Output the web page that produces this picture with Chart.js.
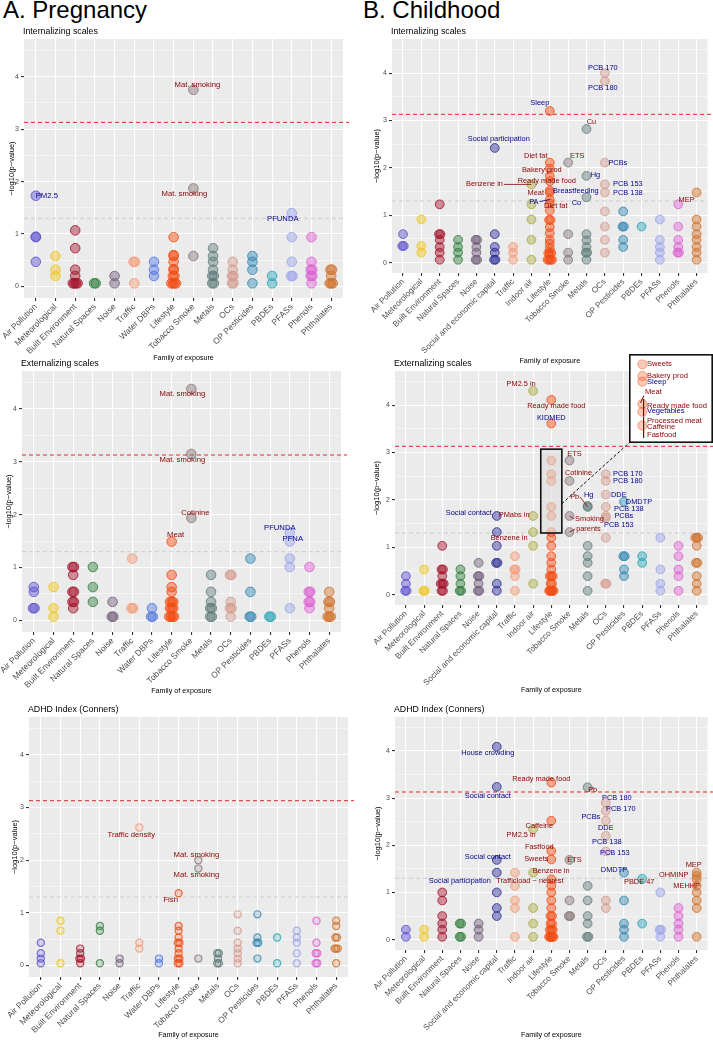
<!DOCTYPE html>
<html>
<head>
<meta charset="utf-8">
<script src="https://cdn.jsdelivr.net/npm/chart.js@4.4.1/dist/chart.umd.min.js"></script>
<style>
  body { margin: 0; background: #fff; }
  #page { position: relative; width: 713px; height: 1040px; overflow: hidden; font-family: "Liberation Sans", Arial, sans-serif; }
  .big { position: absolute; top: -2px; font-size: 24px; line-height: 24px; color: #000; white-space: nowrap; }
  canvas { position: absolute; }
</style>
</head>
<body>
<div id="page">
  <div class="big" style="left:3px">A. Pregnancy</div>
  <div class="big" style="left:363px">B. Childhood</div>
</div>
<script>
// exposure families
const familiesA = ['Air Pollution', 'Meteorological', 'Built Environment', 'Natural Spaces', 'Noise', 'Traffic',
  'Water DBPs', 'Lifestyle', 'Tobacco Smoke', 'Metals', 'OCs', 'OP Pesticides', 'PBDEs', 'PFASs', 'Phenols', 'Phthalates'];
const familiesB = ['Air Pollution', 'Meteorological', 'Built Environment', 'Natural Spaces', 'Noise',
  'Social and economic capital', 'Traffic', 'Indoor air', 'Lifestyle', 'Tobacco Smoke', 'Metals', 'OCs',
  'OP Pesticides', 'PBDEs', 'PFASs', 'Phenols', 'Phthalates'];

const yTickValues = [0, 0.5, 1, 1.5, 2, 2.5, 3, 3.5, 4, 4.5];
const bonferroniLine = 3.13;
const nominalLine = 1.3;

// -log10(p) per family, pregnancy
const aInternalizing = [
  [1.73, 0.95, 0.94, 0.47],
  [0.58, 0.32, 0.2],
  [1.07, 0.73, 0.32, 0.2, 0.06, 0.06, 0.06, 0.06],
  [0.06, 0.06],
  [0.2, 0.06],
  [0.47, 0.47, 0.06],
  [0.47, 0.32, 0.2],
  [0.94, 0.6, 0.58, 0.47, 0.33, 0.32, 0.2, 0.2, 0.06, 0.06, 0.06, 0.06],
  [3.75, 1.87, 0.58],
  [0.73, 0.58, 0.47, 0.32, 0.2, 0.2, 0.06, 0.06],
  [0.47, 0.32, 0.2, 0.2, 0.06, 0.06],
  [0.58, 0.47, 0.32, 0.06],
  [0.2, 0.06],
  [1.4, 0.94, 0.47, 0.2, 0.2],
  [0.94, 0.47, 0.32, 0.32, 0.2, 0.2, 0.06],
  [0.32, 0.32, 0.2, 0.06, 0.06, 0.06]
];
const aExternalizing = [
  [0.63, 0.54, 0.23, 0.23],
  [0.63, 0.23, 0.07],
  [1.01, 1.01, 0.86, 0.54, 0.54, 0.35, 0.35, 0.23],
  [1.01, 0.63, 0.35],
  [0.35, 0.07, 0.07],
  [1.17, 0.23, 0.23],
  [0.23, 0.07, 0.07],
  [1.49, 0.86, 0.63, 0.54, 0.35, 0.35, 0.35, 0.23, 0.23, 0.23, 0.07, 0.07, 0.07, 0.07],
  [4.38, 3.15, 1.94],
  [0.86, 0.54, 0.35, 0.23, 0.23, 0.07, 0.07],
  [0.86, 0.86, 0.35, 0.23, 0.23, 0.07],
  [1.17, 0.54, 0.07, 0.07],
  [0.07, 0.07],
  [1.66, 1.49, 1.17, 1.01, 0.23],
  [1.01, 0.54, 0.54, 0.35, 0.35, 0.23],
  [0.54, 0.35, 0.35, 0.23, 0.07, 0.07, 0.07]
];
const aAdhd = [
  [0.43, 0.23, 0.13, 0.04],
  [0.85, 0.66, 0.04],
  [0.32, 0.23, 0.13, 0.13, 0.04],
  [0.75, 0.66, 0.04],
  [0.13, 0.04],
  [2.62, 0.43, 0.32],
  [0.13, 0.04],
  [1.37, 0.75, 0.66, 0.53, 0.43, 0.43, 0.32, 0.23, 0.13, 0.13, 0.04, 0.04],
  [2.0, 1.84, 0.13],
  [0.23, 0.23, 0.13, 0.04, 0.04],
  [0.97, 0.66, 0.43, 0.32, 0.23, 0.13, 0.04],
  [0.97, 0.53, 0.43, 0.43, 0.13],
  [0.53, 0.04],
  [0.66, 0.53, 0.43, 0.23, 0.04],
  [0.85, 0.43, 0.23, 0.23, 0.04, 0.04],
  [0.85, 0.75, 0.53, 0.53, 0.32, 0.32, 0.32, 0.04]
];

// childhood
const bInternalizing = [
  [0.6, 0.35, 0.35],
  [0.91, 0.35, 0.21],
  [1.23, 0.6, 0.6, 0.48, 0.33, 0.21, 0.06],
  [0.48, 0.33, 0.21, 0.06],
  [0.48, 0.48, 0.33, 0.21, 0.06, 0.06],
  [2.42, 0.6, 0.33, 0.21, 0.06, 0.06],
  [0.33, 0.21, 0.06],
  [1.65, 1.23, 0.91, 0.48, 0.06],
  [3.2, 2.11, 1.98, 1.83, 1.72, 1.52, 1.48, 1.33, 1.25, 1.1, 0.9, 0.9, 0.75, 0.62, 0.48, 0.4, 0.3, 0.2, 0.2, 0.2, 0.06, 0.06, 0.06, 0.06],
  [2.11, 0.6, 0.21, 0.06],
  [2.82, 1.83, 1.38, 0.6, 0.47, 0.33, 0.21, 0.21, 0.06],
  [4.0, 3.83, 2.11, 1.65, 1.48, 1.08, 0.76, 0.48, 0.21],
  [1.08, 0.76, 0.76, 0.48, 0.33],
  [0.76],
  [0.91, 0.48, 0.33, 0.21, 0.06],
  [1.23, 0.76, 0.48, 0.33, 0.21, 0.21],
  [1.48, 0.91, 0.76, 0.6, 0.48, 0.33, 0.21, 0.06]
];
const bExternalizing = [
  [0.39, 0.23, 0.08, 0.08],
  [0.53, 0.08, 0.08],
  [1.03, 0.53, 0.53, 0.39, 0.23, 0.23, 0.23, 0.08, 0.08],
  [0.53, 0.39, 0.23, 0.08, 0.08],
  [0.67, 0.39, 0.39, 0.23, 0.08, 0.08],
  [1.66, 1.32, 1.03, 0.67, 0.67, 0.23, 0.08],
  [0.81, 0.53, 0.53, 0.39, 0.08],
  [4.3, 1.66, 1.32, 1.03, 0.23],
  [4.11, 3.61, 2.83, 2.54, 2.4, 1.85, 1.66, 1.32, 1.2, 1.03, 0.81, 0.67, 0.53, 0.39, 0.39, 0.39, 0.23, 0.23, 0.08, 0.08, 0.08, 0.08, 0.08],
  [2.83, 2.4, 1.66, 1.32],
  [1.87, 1.85, 1.03, 0.81, 0.67, 0.39, 0.08],
  [2.54, 2.4, 2.11, 1.85, 1.66, 1.62, 1.2, 0.23, 0.23],
  [1.96, 0.81, 0.81, 0.53, 0.39],
  [0.81, 0.67],
  [1.2, 0.53, 0.23, 0.08],
  [1.03, 0.81, 0.53, 0.39, 0.08],
  [1.2, 1.2, 1.2, 1.03, 0.67, 0.67, 0.39, 0.23, 0.08]
];
const bAdhd = [
  [0.21, 0.06],
  [0.21, 0.06],
  [1.0, 0.83, 0.5, 0.34, 0.21, 0.06],
  [0.34, 0.34, 0.06, 0.06],
  [0.34, 0.21, 0.06],
  [4.09, 3.24, 1.69, 1.42, 1.0, 0.67, 0.5],
  [1.42, 1.14, 0.83, 0.67, 0.06],
  [2.34, 1.42, 0.67, 0.34, 0.06],
  [3.33, 2.52, 1.88, 1.7, 1.28, 1.14, 1.0, 0.83, 0.67, 0.5, 0.5, 0.34, 0.34, 0.21, 0.21, 0.21, 0.06, 0.06, 0.06, 0.06, 0.06],
  [1.69, 0.83, 0.5, 0.5],
  [3.23, 1.14, 0.83, 0.5, 0.34, 0.06, 0.06],
  [2.9, 2.73, 2.52, 2.2, 1.87, 0.83, 0.67],
  [1.42, 0.83, 0.34, 0.21, 0.06],
  [1.29, 0.34],
  [1.0, 0.21, 0.21, 0.06],
  [0.67, 0.5, 0.34, 0.21, 0.06],
  [1.42, 1.35, 1.28, 1.14, 1.0, 0.83, 0.67, 0.06]
];

// zoomed part of the childhood externalizing lifestyle column
const zoomRange = [1.3, 3.07];

// labelled exposures: family, value, text, label offset x/y (px), colour, leader line
const aIntNotes = [
  ['Tobacco Smoke', 3.75, 'Mat. smoking', 4, -5, 'r'],
  ['Air Pollution', 1.73, 'PM2.5', 11, 0, 'b'],
  ['Tobacco Smoke', 1.87, 'Mat. smoking', -9, 5, 'r'],
  ['PFASs', 1.4, 'PFUNDA', -9, 6, 'b']
];
const aExtNotes = [
  ['Tobacco Smoke', 4.38, 'Mat. smoking', -9, 5, 'r'],
  ['Tobacco Smoke', 3.15, 'Mat. smoking', -9, 6, 'r'],
  ['Tobacco Smoke', 1.94, 'Cotinine', 4, -5, 'r'],
  ['Lifestyle', 1.49, 'Meat', 4, -7, 'r'],
  ['PFASs', 1.66, 'PFUNDA', -10, -5, 'b'],
  ['PFASs', 1.49, 'PFNA', 3, -3, 'b']
];
const aAdhdNotes = [
  ['Traffic', 2.62, 'Traffic density', -8, 7, 'r'],
  ['Tobacco Smoke', 2.0, 'Mat. smoking', -2, -5, 'r'],
  ['Tobacco Smoke', 1.84, 'Mat. smoking', -2, 6, 'r'],
  ['Lifestyle', 1.37, 'Fish', -8, 7, 'r']
];
const bIntNotes = [
  ['OCs', 4.0, 'PCB 170', -2, -5, 'b'],
  ['OCs', 3.83, 'PCB 180', -2, 7, 'b'],
  ['Lifestyle', 3.2, 'Sleep', -10, -8, 'b'],
  ['Metals', 2.82, 'Cu', 5, -7, 'r'],
  ['Social and economic capital', 2.42, 'Social participation', 4, -9, 'b'],
  ['Lifestyle', 2.11, 'Diet fat', -14, -7, 'r'],
  ['Tobacco Smoke', 2.11, 'ETS', 9, -7, 'r'],
  ['OCs', 2.11, 'PCBs', 13, 0, 'b'],
  ['Lifestyle', 1.98, 'Bakery prod', -8, 1, 'r'],
  ['Lifestyle', 1.72, 'Ready made food', -3, 0, 'r'],
  ['Indoor air', 1.65, 'Benzene in', -47, 0, 'r', true],
  ['Lifestyle', 1.48, 'Meat', -14, 0, 'r'],
  ['Lifestyle', 1.52, 'Breastfeeding', 26, 0, 'b'],
  ['Lifestyle', 1.33, 'PA', -16, 2, 'b', true],
  ['Lifestyle', 1.25, 'Diet fat', 6, 3, 'r'],
  ['Metals', 1.38, 'Co', -10, 6, 'b'],
  ['Metals', 1.83, 'Hg', 9, -1, 'b'],
  ['OCs', 1.65, 'PCB 153', 23, 0, 'b'],
  ['OCs', 1.48, 'PCB 138', 23, 0, 'b'],
  ['Phthalates', 1.48, 'MEP', -10, 7, 'r']
];
const bExtNotes = [
  ['Indoor air', 4.3, 'PM2.5 in', -12, -7, 'r'],
  ['Lifestyle', 4.11, 'Ready made food', 5, 6, 'r'],
  ['Lifestyle', 3.61, 'KIDMED', 0, -6, 'b'],
  ['Tobacco Smoke', 2.83, 'ETS', 5, -7, 'r'],
  ['Tobacco Smoke', 2.4, 'Cotinine', 9, -8, 'r'],
  ['OCs', 2.54, 'PCB 170', 22, 0, 'b'],
  ['OCs', 2.4, 'PCB 180', 22, 0, 'b'],
  ['OCs', 2.11, 'DDE', 13, 0, 'b'],
  ['OP Pesticides', 1.96, 'DMDTP', 15, 0, 'b'],
  ['OCs', 1.85, 'PCB 138', 23, 2, 'b'],
  ['OCs', 1.66, 'PCBs', 18, 0, 'b'],
  ['OCs', 1.62, 'PCB 153', 13, 7, 'b'],
  ['Metals', 1.85, 'Pb', -13, -10, 'r', true],
  ['Metals', 1.87, 'Hg', 1, -11, 'b'],
  ['Social and economic capital', 1.66, 'Social contact', -28, -3, 'b'],
  ['Indoor air', 1.66, 'PMabs in', -19, -1, 'r'],
  ['Indoor air', 1.32, 'Benzene in', -24, 6, 'r'],
  ['Tobacco Smoke', 1.66, 'Smoking', 20, 3, 'r', true],
  ['Tobacco Smoke', 1.32, 'parents', 19, -3, 'r', true]
];
const bAdhdNotes = [
  ['Social and economic capital', 4.09, 'House crowding', -9, 6, 'b'],
  ['Lifestyle', 3.33, 'Ready made food', -10, -4, 'r'],
  ['Metals', 3.23, 'Pb', 5, 3, 'r'],
  ['Social and economic capital', 3.24, 'Social contact', -9, 9, 'b'],
  ['OCs', 2.9, 'PCB 180', 11, -5, 'b'],
  ['OCs', 2.73, 'PCB 170', 15, -2, 'b'],
  ['OCs', 2.52, 'PCBs', -15, -4, 'b'],
  ['OCs', 2.2, 'DDE', 0, -8, 'b'],
  ['OCs', 2.2, 'PCB 138', 1, 6, 'b'],
  ['OCs', 1.87, 'PCB 153', 9, 2, 'b'],
  ['Lifestyle', 2.52, 'Caffeine', -12, 5, 'r'],
  ['Indoor air', 2.34, 'PM2.5 in', -12, 6, 'r'],
  ['Lifestyle', 1.88, 'Fastfood', -12, -4, 'r'],
  ['Social and economic capital', 1.69, 'Social contact', -9, -3, 'b'],
  ['Lifestyle', 1.7, 'Sweets', -15, 0, 'r'],
  ['Tobacco Smoke', 1.69, 'ETS', 5, 0, 'r'],
  ['Indoor air', 1.42, 'Benzene in', 18, -2, 'r'],
  ['Traffic', 1.42, 'Trafficload \u2212 nearest', 15, 8, 'r'],
  ['Social and economic capital', 1.42, 'Social participation', -37, 8, 'b'],
  ['OP Pesticides', 1.42, 'DMDTP', -10, -3, 'b'],
  ['PBDEs', 1.29, 'PBDE 47', -3, 3, 'r'],
  ['Phthalates', 1.42, 'MEP', -3, -8, 'r'],
  ['Phthalates', 1.35, 'OHMINP', -23, -1, 'r'],
  ['Phthalates', 1.14, 'MEHHP', -10, 0, 'r']
];
// labels inside the zoom inset: value, text, y offset, colour, leader
const insetNotes = [
  [2.83, 'Sweets', 0, 'r'],
  [2.54, 'Bakery prod', 0, 'r'],
  [2.4, 'Sleep', 0.7, 'b'],
  [1.85, 'Meat', -12.5, 'r', true],
  [1.85, 'Ready made food', 1.5, 'r'],
  [1.66, 'Vegetables', -1, 'b'],
  [1.32, 'Processed meat', -5, 'r'],
  [1.32, 'Caffeine', 1.4, 'r'],
  [1.32, 'Fastfood', 9, 'r']
];

const familyColors = {
  'Air Pollution': '#5B4FCF',
  'Meteorological': '#F0C419',
  'Built Environment': '#A3122A',
  'Natural Spaces': '#2F7D3B',
  'Noise': '#6F5A78',
  'Social and economic capital': '#2A2A96',
  'Traffic': '#F29A76',
  'Water DBPs': '#4F74E0',
  'Indoor air': '#A9A83E',
  'Lifestyle': '#F24B12',
  'Tobacco Smoke': '#857475',
  'Metals': '#5D7A78',
  'OCs': '#D39A8C',
  'OP Pesticides': '#2F86B0',
  'PBDEs': '#25A3B5',
  'PFASs': '#98A2E8',
  'Phenols': '#DC5FD0',
  'Phthalates': '#D0702A'
};
const RED = '#8B0000', BLUE = '#00008B';
const FONT = '"Liberation Sans", Arial, sans-serif';
const INSET = { left: 629, top: 354, w: 84, h: 89 };

Chart.defaults.font.family = FONT;
Chart.defaults.color = '#4D4D4D';

const page = document.getElementById('page');

function rgba(hex, a) {
  const n = parseInt(hex.slice(1), 16);
  return `rgba(${n >> 16},${(n >> 8) & 255},${n & 255},${a})`;
}

// small horizontal dodge for tied values inside a family
function buildPoints(families, values, fillAlpha) {
  const pts = [], fill = [], line = [];
  values.forEach((vals, i) => {
    const count = {}, used = {};
    vals.forEach(v => { count[v] = (count[v] || 0) + 1; });
    const c = familyColors[families[i]];
    vals.forEach(v => {
      const k = count[v], j = used[v] || 0;
      used[v] = j + 1;
      const step = k > 1 ? Math.min(0.08, 0.24 / (k - 1)) : 0;
      pts.push({ x: i + (j - (k - 1) / 2) * step, y: v });
      fill.push(rgba(c, fillAlpha));
      line.push(rgba(c, 0.8));
    });
  });
  return { pts, fill, line };
}

function drawNote(ctx, text, lx, ly, col, seg, px, py, size) {
  ctx.font = `${size}px ${FONT}`;
  ctx.textAlign = 'center';
  ctx.textBaseline = 'middle';
  ctx.fillStyle = col === 'r' ? RED : BLUE;
  ctx.fillText(text, lx, ly);
  if (seg) {
    const w = ctx.measureText(text).width;
    let ex, ey;
    if (Math.abs(lx - px) > Math.abs(ly - py)) {
      ex = lx + (px > lx ? 1 : -1) * (w / 2 + 1); ey = ly;
    } else {
      ex = lx; ey = ly + (py > ly ? 1 : -1) * 4;
    }
    ctx.strokeStyle = ctx.fillStyle;
    ctx.lineWidth = 0.8;
    ctx.beginPath(); ctx.moveTo(ex, ey); ctx.lineTo(px, py); ctx.stroke();
  }
}

function panelPlugin(p) {
  return {
    id: 'panel',
    beforeDraw(chart) {
      const { ctx, chartArea: a } = chart;
      ctx.save();
      ctx.fillStyle = '#EBEBEB';
      ctx.fillRect(a.left, a.top, a.right - a.left, a.bottom - a.top);
      ctx.fillStyle = '#000';
      ctx.font = `8.8px ${FONT}`;
      ctx.textAlign = 'left';
      ctx.textBaseline = 'alphabetic';
      ctx.fillText(p.title, a.left - 1, a.top - 5.5);
      ctx.restore();
    },
    beforeDatasetsDraw(chart) {
      const { ctx, chartArea: a, scales: { y } } = chart;
      ctx.save();
      ctx.setLineDash([4, 3]);
      ctx.lineWidth = 0.8;
      ctx.strokeStyle = '#C4C4C4';
      let py = y.getPixelForValue(nominalLine);
      ctx.beginPath(); ctx.moveTo(a.left, py); ctx.lineTo(a.right, py); ctx.stroke();
      ctx.lineWidth = 1;
      ctx.strokeStyle = '#E3262B';
      py = y.getPixelForValue(bonferroniLine);
      ctx.beginPath(); ctx.moveTo(a.left, py); ctx.lineTo(Math.min(a.right + 6, chart.width), py); ctx.stroke();
      ctx.restore();
    },
    afterDatasetsDraw(chart) {
      const { ctx, scales: { x, y } } = chart;
      ctx.save();
      if (p.zoom) {
        const xi = p.families.indexOf('Lifestyle');
        const l = x.getPixelForValue(xi - 0.58), r = x.getPixelForValue(xi + 0.58);
        const t = y.getPixelForValue(zoomRange[1]), b = y.getPixelForValue(zoomRange[0]);
        ctx.fillStyle = 'rgba(222,222,222,0.6)';
        ctx.fillRect(l, t, r - l, b - t);
        ctx.strokeStyle = '#111';
        ctx.lineWidth = 1.6;
        ctx.strokeRect(l, t, r - l, b - t);
        ctx.setLineDash([3, 2]);
        ctx.lineWidth = 1;
        ctx.beginPath();
        ctx.moveTo(r, y.getPixelForValue(1.92));
        ctx.lineTo(INSET.left - p.left, INSET.top + INSET.h - p.top);
        ctx.stroke();
        ctx.setLineDash([]);
      }
      p.notes.forEach(([fam, v, text, dx, dy, col, seg]) => {
        const px = x.getPixelForValue(p.families.indexOf(fam));
        const py = y.getPixelForValue(v);
        drawNote(ctx, text, px + dx, py + dy, col, seg, px, py, p.noteSize);
      });
      ctx.restore();
    }
  };
}

function makePanel(p) {
  const cv = document.createElement('canvas');
  const h = Math.round(p.titleY + 4.2 - p.top);
  cv.width = p.width; cv.height = h;
  cv.style.left = p.left + 'px'; cv.style.top = p.top + 'px';
  cv.style.width = p.width + 'px'; cv.style.height = h + 'px';
  page.appendChild(cv);
  const xH = h - (p.plotBottom - p.top);
  const yW = p.plotLeft - p.left;
  const { pts, fill, line } = buildPoints(p.families, p.values, p.fillAlpha);

  new Chart(cv, {
    type: 'scatter',
    data: {
      datasets: [{
        data: pts,
        pointBackgroundColor: fill,
        pointBorderColor: line,
        pointBorderWidth: p.borderWidth,
        pointRadius: p.radius
      }]
    },
    options: {
      responsive: false,
      animation: false,
      devicePixelRatio: 1,
      events: [],
      layout: { padding: { top: p.plotTop - p.top, right: p.left + p.width - p.plotRight, bottom: 0, left: 0 } },
      plugins: { legend: { display: false }, tooltip: { enabled: false } },
      scales: {
        x: {
          type: 'linear', bounds: 'data',
          min: -0.6, max: p.families.length - 0.4,
          afterBuildTicks: s => { s.ticks = p.families.map((f, i) => ({ value: i })); },
          afterFit: s => { s.height = xH; s.paddingLeft = 0; s.paddingRight = 0; },
          ticks: {
            callback: v => p.families[v], autoSkip: false,
            minRotation: 45, maxRotation: 45, padding: 1,
            font: { size: p.xFont }, color: '#4D4D4D'
          },
          grid: { color: '#FFFFFF', lineWidth: 1.1, tickColor: '#333333', tickLength: 3 },
          border: { display: false },
          title: { display: true, text: 'Family of exposure', font: { size: 7.2 }, color: '#000', padding: 0 }
        },
        y: {
          type: 'linear', bounds: 'data',
          min: -0.22, max: 4.72,
          afterBuildTicks: s => { s.ticks = yTickValues.map(v => ({ value: v })); },
          afterFit: s => { s.width = yW; s.paddingTop = 0; s.paddingBottom = 0; },
          ticks: {
            callback: v => Number.isInteger(v) ? String(v) : '',
            autoSkip: false, padding: 2, font: { size: 7 }, color: '#4D4D4D'
          },
          grid: {
            color: '#FFFFFF',
            lineWidth: c => Number.isInteger(c.tick.value) ? 1.1 : 0.5,
            tickColor: c => Number.isInteger(c.tick.value) ? '#333333' : 'rgba(0,0,0,0)',
            tickLength: 3
          },
          border: { display: false },
          title: {
            display: true, text: '\u2212log10(p\u2212value)', font: { size: 7.5 }, color: '#000',
            padding: { top: p.yTitlePad, bottom: 0 }
          }
        }
      }
    },
    plugins: [panelPlugin(p)]
  });
}

const colA = { families: familiesA, left: 0, width: 356, xFont: 8.5, noteSize: 7.7, radius: 4.8, fillAlpha: 0.45, borderWidth: 1 };
const colB = { families: familiesB, left: 356, width: 357, xFont: 8.2, noteSize: 7.4, radius: 4.4, fillAlpha: 0.45, borderWidth: 1 };

makePanel({ ...colA, values: aInternalizing, notes: aIntNotes, title: 'Internalizing scales',
  top: 24, plotTop: 39, plotBottom: 298, plotLeft: 24, plotRight: 343, titleY: 358, yTitlePad: 7 });
makePanel({ ...colA, values: aExternalizing, notes: aExtNotes, title: 'Externalizing scales',
  top: 350, plotTop: 371, plotBottom: 632, plotLeft: 22, plotRight: 341, titleY: 690.7, yTitlePad: 4 });
makePanel({ ...colA, values: aAdhd, notes: aAdhdNotes, title: 'ADHD Index (Conners)', radius: 3.6, fillAlpha: 0.22, borderWidth: 1.2,
  top: 696, plotTop: 717, plotBottom: 977, plotLeft: 29, plotRight: 348, titleY: 1035, yTitlePad: 10 });
makePanel({ ...colB, values: bInternalizing, notes: bIntNotes, title: 'Internalizing scales',
  top: 24, plotTop: 39, plotBottom: 273, plotLeft: 392, plotRight: 710, titleY: 361, yTitlePad: 16 });
makePanel({ ...colB, values: bExternalizing, notes: bExtNotes, title: 'Externalizing scales', zoom: true,
  top: 350, plotTop: 371, plotBottom: 605, plotLeft: 395, plotRight: 713, titleY: 690, yTitlePad: 16 });
makePanel({ ...colB, values: bAdhd, notes: bAdhdNotes, title: 'ADHD Index (Conners)',
  top: 696, plotTop: 717, plotBottom: 950, plotLeft: 395, plotRight: 713, titleY: 1035, yTitlePad: 17 });

// zoom inset: the lifestyle points inside zoomRange, same y scale as the panel
(function makeInset() {
  const cv = document.createElement('canvas');
  cv.width = INSET.w; cv.height = INSET.h;
  cv.style.left = INSET.left + 'px'; cv.style.top = INSET.top + 'px';
  cv.style.width = INSET.w + 'px'; cv.style.height = INSET.h + 'px';
  page.appendChild(cv);
  const life = bExternalizing[familiesB.indexOf('Lifestyle')]
    .filter(v => v >= zoomRange[0] && v <= zoomRange[1]);
  const c = familyColors['Lifestyle'];
  new Chart(cv, {
    type: 'scatter',
    data: { datasets: [{ data: life.map(v => ({ x: 0, y: v })), pointRadius: 4.6, pointBorderWidth: 1,
      pointBackgroundColor: rgba(c, 0.3), pointBorderColor: rgba(c, 0.45) }] },
    options: {
      responsive: false, animation: false, devicePixelRatio: 1, events: [],
      layout: { padding: 0 },
      plugins: { legend: { display: false }, tooltip: { enabled: false } },
      scales: {
        x: { type: 'linear', display: false, min: -1, max: 8.33 },
        y: { type: 'linear', display: false, min: 1.026, max: 2.944 }
      }
    },
    plugins: [{
      id: 'inset',
      beforeDraw(chart) {
        const ctx = chart.ctx;
        ctx.save(); ctx.fillStyle = '#fff'; ctx.fillRect(0, 0, chart.width, chart.height); ctx.restore();
      },
      afterDatasetsDraw(chart) {
        const { ctx, scales: { y } } = chart;
        ctx.save();
        ctx.font = `7.6px ${FONT}`;
        ctx.textAlign = 'left';
        ctx.textBaseline = 'middle';
        insetNotes.forEach(([v, text, dy, col, seg]) => {
          const py = y.getPixelForValue(v);
          ctx.fillStyle = col === 'r' ? RED : BLUE;
          ctx.fillText(text, seg ? 16 : 18, py + dy);
          if (seg) {
            ctx.strokeStyle = RED; ctx.lineWidth = 1;
            ctx.beginPath(); ctx.moveTo(15, py + dy + 4); ctx.lineTo(11.5, py - 1); ctx.stroke();
          }
        });
        ctx.strokeStyle = RED;
        ctx.lineWidth = 1.2;
        const g1 = y.getPixelForValue(1.85), g2 = y.getPixelForValue(1.66), g3 = y.getPixelForValue(1.32);
        ctx.beginPath(); ctx.moveTo(14.6, g1 - 5); ctx.lineTo(14.6, g2 + 4.5); ctx.stroke();
        ctx.beginPath(); ctx.moveTo(14.6, g3 - 9); ctx.lineTo(14.6, g3 + 12.5); ctx.stroke();
        ctx.restore();
      },
      afterDraw(chart) {
        const ctx = chart.ctx;
        ctx.save(); ctx.strokeStyle = '#111'; ctx.lineWidth = 1.6;
        ctx.strokeRect(0.8, 0.8, chart.width - 1.6, chart.height - 1.6); ctx.restore();
      }
    }]
  });
})();
</script>
</body>
</html>
